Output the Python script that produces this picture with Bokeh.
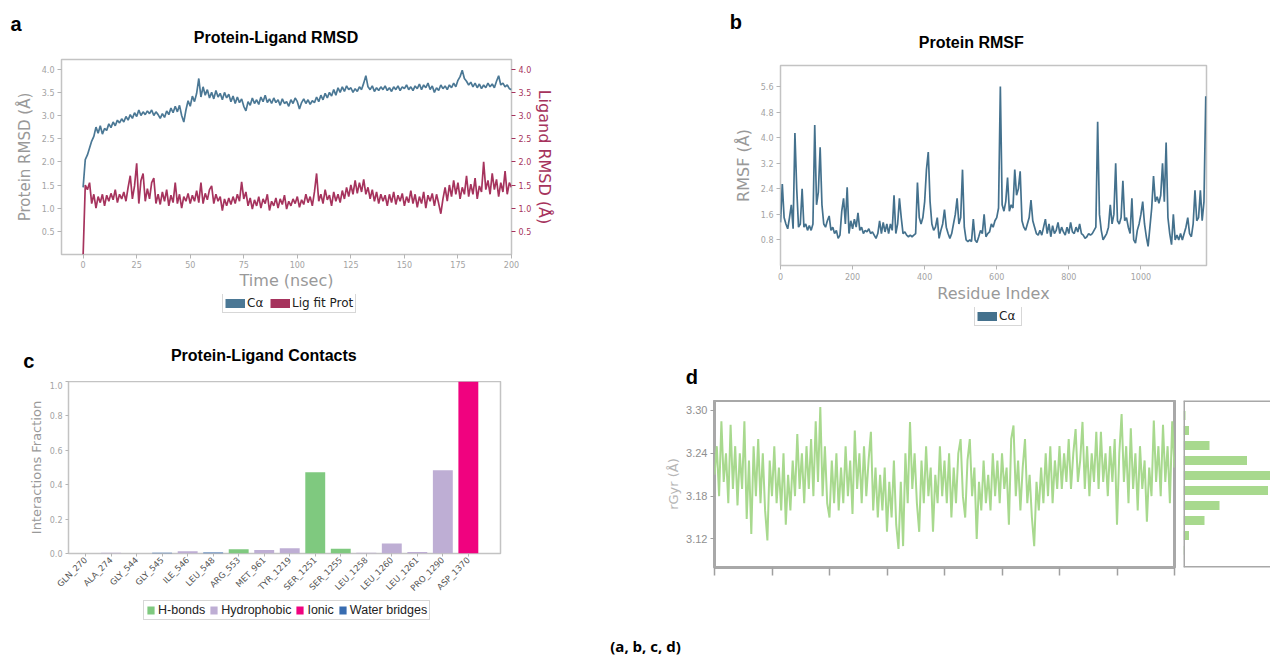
import math
from bokeh.plotting import figure
from bokeh.models import (Range1d, LinearAxis, FixedTicker, Legend, LegendItem,
                          Label, Span, ColumnDataSource, NumeralTickFormatter)
from bokeh.layouts import row, column
from bokeh.embed import file_html
from bokeh.resources import INLINE

# ---------------- Panel a : Protein-Ligand RMSD ----------------
time_ns = list(range(0, 201))
ca_rmsd = [
    1.45, 2.05, 2.15, 2.3, 2.45, 2.55, 2.75, 2.62, 2.78, 2.6,
    2.72, 2.68, 2.82, 2.74, 2.86, 2.78, 2.9, 2.84, 2.93, 2.86,
    2.98, 2.9, 3.02, 2.94, 3.06, 2.98, 3.12, 3.0, 3.08, 3.02,
    3.1, 3.04, 3.12, 3.0, 3.08, 3.02, 2.94, 3.04, 2.96, 3.1,
    3.02, 3.16, 3.06, 3.2, 3.08, 3.22, 3.0, 2.86, 3.12, 3.32,
    3.2, 3.42, 3.3, 3.48, 3.8, 3.4, 3.62, 3.44, 3.56, 3.38,
    3.5, 3.36, 3.54, 3.4, 3.48, 3.34, 3.5, 3.38, 3.46, 3.3,
    3.42, 3.26, 3.4, 3.28, 3.36, 3.2, 3.1, 3.3, 3.22, 3.38,
    3.26, 3.34, 3.24, 3.4, 3.3, 3.44, 3.28, 3.36, 3.26, 3.38,
    3.28, 3.34, 3.22, 3.36, 3.26, 3.3, 3.2, 3.34, 3.26, 3.38,
    3.3, 3.14, 3.28, 3.36, 3.26, 3.34, 3.24, 3.32, 3.28, 3.4,
    3.3, 3.44, 3.34, 3.48, 3.38, 3.5, 3.42, 3.56, 3.44, 3.6,
    3.5, 3.62, 3.52, 3.64, 3.56, 3.6, 3.5, 3.58, 3.52, 3.62,
    3.56, 3.7, 3.86, 3.62, 3.56, 3.64, 3.52, 3.6, 3.54, 3.62,
    3.56, 3.64, 3.54, 3.6, 3.52, 3.62, 3.56, 3.64, 3.54, 3.62,
    3.58, 3.66, 3.56, 3.62, 3.54, 3.64, 3.58, 3.68, 3.56, 3.66,
    3.6, 3.7, 3.56, 3.64, 3.5, 3.6, 3.54, 3.66, 3.58, 3.64,
    3.56, 3.66, 3.6, 3.7, 3.62, 3.76, 3.84, 3.98, 3.8, 3.74,
    3.66, 3.72, 3.62, 3.7, 3.6, 3.68, 3.58, 3.66, 3.6, 3.7,
    3.62, 3.68, 3.6, 3.74, 3.86, 3.66, 3.7, 3.62, 3.66, 3.58,
    3.56]
lig_rmsd = [
    0.0, 1.5, 1.4, 1.55, 1.1, 1.3, 1.0, 1.25, 1.12, 1.3,
    1.05, 1.28, 1.15, 1.32, 1.18, 1.4, 1.12, 1.3, 1.2, 1.35,
    1.15, 1.45, 1.7, 1.2, 1.48, 1.97, 1.1, 1.6, 1.75, 1.15,
    1.42, 1.2, 1.55, 1.65, 1.1, 1.3, 1.08, 1.35, 1.15, 1.4,
    1.05, 1.28, 1.12, 1.55, 1.1, 1.3, 1.0, 1.25, 1.15, 1.32,
    1.1, 1.28, 1.15, 1.38, 1.12, 1.55, 1.1, 1.32, 1.18, 1.4,
    1.48, 1.1, 1.3, 1.15, 1.25, 0.95, 1.2, 1.05, 1.22, 1.08,
    1.25, 1.1, 1.3, 1.15, 1.57, 1.2, 1.35, 1.05, 1.22, 0.98,
    1.18, 1.05, 1.25, 1.0, 1.2, 1.1, 1.3, 0.95, 1.15, 1.05,
    1.22, 1.0, 1.2, 1.08, 1.28, 0.98, 1.15, 1.05, 1.2, 1.1,
    1.25, 1.02, 1.18, 1.08, 1.3, 1.12, 1.25, 1.05, 1.35, 1.75,
    1.15, 1.3, 1.1, 1.4, 1.18, 1.28, 1.05, 1.35, 1.15, 1.3,
    1.12, 1.38, 1.2, 1.45, 1.25, 1.5, 1.3, 1.6, 1.32, 1.55,
    1.35, 1.62, 1.3, 1.45, 1.2, 1.4, 1.15, 1.35, 1.1, 1.3,
    1.15, 1.28, 1.05, 1.3, 1.12, 1.35, 1.08, 1.28, 1.15, 1.32,
    1.05, 1.25, 1.12, 1.38, 1.1, 1.3, 1.02, 1.25, 1.1, 1.35,
    1.0, 1.28, 1.15, 1.32, 1.05, 1.3, 1.1, 0.88, 1.2, 1.45,
    1.15, 1.5, 1.25, 1.6, 1.3, 1.55, 1.2, 1.45, 1.3, 1.7,
    1.25, 1.52, 1.3, 1.65, 1.2, 1.48, 1.35, 2.0, 1.4, 1.6,
    1.3, 1.75, 1.4, 1.62, 1.25, 1.55, 1.35, 1.8, 1.3, 1.55,
    1.45]
rmsd_time_ticks = [0, 25, 50, 75, 100, 125, 150, 175, 200]
rmsd_ticks = [0.5, 1.0, 1.5, 2.0, 2.5, 3.0, 3.5, 4.0]

# ---------------- Panel b : Protein RMSF ----------------
residue_index = list(range(0, 1181, 5))
rmsf = [
    1.35, 2.55, 1.5, 1.3, 1.15, 1.5, 1.9, 1.15, 4.15, 2.4,
    1.2, 1.3, 2.4, 1.2, 1.3, 1.1, 1.25, 1.1, 1.3, 4.4,
    1.9, 2.3, 3.7, 1.9, 1.3, 1.2, 1.4, 1.55, 1.1, 1.2,
    1.0, 1.1, 0.85, 0.95, 1.7, 2.1, 1.3, 2.45, 1.0, 1.4,
    1.15, 1.45, 1.2, 1.65, 1.1, 1.2, 1.0, 1.1, 1.05, 1.15,
    1.0, 1.05, 0.95, 0.85, 1.0, 1.4, 1.0, 1.35, 1.05, 1.3,
    1.0, 1.3, 1.1, 2.2, 1.0, 1.3, 2.1, 1.5, 1.0, 1.05,
    0.95, 0.9, 0.95, 0.9, 0.95, 1.0, 2.6, 1.5, 1.3, 1.5,
    2.0, 3.0, 3.55, 2.0, 1.3, 1.1, 1.2, 1.5, 0.85, 1.1,
    1.3, 1.75, 1.2, 1.0, 0.85, 1.0, 1.3, 1.6, 2.1, 1.3,
    1.5, 3.0, 1.2, 0.8, 0.75, 0.8, 0.75, 1.45, 0.8, 0.72,
    0.9, 1.1, 1.0, 1.6, 0.9, 1.0, 1.05, 1.3, 1.2, 1.4,
    1.5, 1.8, 5.6, 1.9, 1.7, 2.0, 2.75, 1.7, 1.9, 1.8,
    3.0, 2.2, 2.4, 2.95, 1.4, 1.2, 1.1, 1.3, 1.5, 2.05,
    1.4, 1.2, 1.0, 0.95, 1.1, 0.95, 1.2, 1.45, 1.0, 1.3,
    0.9, 1.25, 1.0, 1.1, 1.35, 1.0, 1.2, 1.05, 0.95, 1.2,
    1.0, 1.35, 1.05, 1.0, 1.2, 1.05, 1.3, 1.0, 0.95, 0.85,
    0.9, 1.0, 0.95, 1.0, 1.1, 1.2, 4.5, 1.6, 1.1, 0.8,
    0.9, 1.0, 1.2, 1.9, 1.3, 1.6, 3.2, 1.4, 1.3, 1.5,
    2.65, 1.4, 1.5, 1.2, 1.0, 2.1, 0.8, 0.7, 1.1, 1.3,
    1.6, 2.0, 1.3, 0.9, 0.6, 1.2, 1.8, 2.8, 2.0, 2.15,
    1.95, 2.2, 3.2, 2.0, 3.85, 1.5, 1.0, 0.65, 1.6, 0.8,
    0.95, 0.8, 1.0, 0.8, 1.0, 1.2, 1.5, 1.0, 0.9, 1.3,
    2.35, 1.4, 1.5, 2.35, 1.4, 2.0, 5.3]
rmsf_x_ticks = [0, 200, 400, 600, 800, 1000]
rmsf_y_ticks = [0.8, 1.6, 2.4, 3.2, 4.0, 4.8, 5.6]

# ---------------- Panel c : Protein-Ligand Contacts ----------------
residues = ["GLN_270", "ALA_274", "GLY_544", "GLY_545", "ILE_546", "LEU_548",
            "ARG_553", "MET_961", "TYR_1219", "SER_1251", "SER_1255", "LEU_1258",
            "LEU_1260", "LEU_1261", "PRO_1290", "ASP_1370"]
hbonds = [0, 0, 0, 0, 0, 0, 0.025, 0, 0, 0.472, 0.028, 0, 0, 0, 0, 0]
hydrophobic = [0, 0.004, 0, 0, 0.013, 0, 0, 0.021, 0.031, 0, 0, 0.004, 0.058, 0.008, 0.484, 0]
ionic = [0, 0, 0, 0, 0, 0, 0, 0, 0, 0, 0, 0, 0, 0, 0, 1.0]
water_bridges = [0, 0, 0, 0.005, 0, 0.006, 0, 0, 0, 0, 0, 0, 0, 0, 0, 0]
contact_types = ["H-bonds", "Hydrophobic", "Ionic", "Water bridges"]
contact_ticks = [0.0, 0.2, 0.4, 0.6, 0.8, 1.0]

# ---------------- Panel d : rGyr trace + histogram ----------------
time_d = list(range(0, 201))
rgyr = [
    3.21, 3.25, 3.18, 3.285, 3.2, 3.24, 3.17, 3.28, 3.19, 3.25,
    3.167, 3.24, 3.19, 3.285, 3.148, 3.23, 3.127, 3.25, 3.18, 3.26,
    3.17, 3.24, 3.16, 3.118, 3.23, 3.18, 3.25, 3.17, 3.22, 3.16,
    3.24, 3.14, 3.21, 3.16, 3.23, 3.18, 3.267, 3.19, 3.24, 3.17,
    3.25, 3.19, 3.26, 3.18, 3.285, 3.2, 3.305, 3.18, 3.25, 3.17,
    3.15, 3.23, 3.17, 3.24, 3.16, 3.22, 3.17, 3.25, 3.18, 3.23,
    3.155, 3.272, 3.19, 3.24, 3.17, 3.25, 3.18, 3.23, 3.27, 3.16,
    3.22, 3.15, 3.21, 3.16, 3.22, 3.13, 3.2, 3.15, 3.23, 3.14,
    3.106, 3.2, 3.11, 3.24, 3.17, 3.284, 3.19, 3.24, 3.17, 3.13,
    3.23, 3.17, 3.25, 3.18, 3.22, 3.13, 3.21, 3.17, 3.25, 3.18,
    3.23, 3.17, 3.24, 3.15, 3.22, 3.17, 3.24, 3.26, 3.18, 3.15,
    3.23, 3.26, 3.18, 3.22, 3.12, 3.2, 3.16, 3.23, 3.17, 3.21,
    3.16, 3.24, 3.18, 3.23, 3.17, 3.24, 3.19, 3.22, 3.14, 3.26,
    3.279, 3.18, 3.23, 3.16, 3.22, 3.26, 3.17, 3.21, 3.15, 3.11,
    3.2, 3.16, 3.22, 3.17, 3.24, 3.18, 3.25, 3.17, 3.23, 3.19,
    3.25, 3.19, 3.24, 3.2, 3.26, 3.19, 3.24, 3.274, 3.2, 3.23,
    3.284, 3.19, 3.25, 3.18, 3.24, 3.2, 3.27, 3.19, 3.27, 3.2,
    3.24, 3.18, 3.25, 3.2, 3.26, 3.14, 3.24, 3.295, 3.2, 3.25,
    3.17, 3.275, 3.19, 3.24, 3.16, 3.25, 3.19, 3.23, 3.144, 3.22,
    3.18, 3.286, 3.2, 3.25, 3.18, 3.28, 3.2, 3.25, 3.17, 3.285,
    3.22]
rgyr_time_ticks = [0, 25, 50, 75, 100, 125, 150, 175, 200]
rgyr_ticks = [3.12, 3.18, 3.24, 3.30]
hist_centers = [3.104, 3.125, 3.146, 3.167, 3.188, 3.209, 3.230, 3.251, 3.272, 3.293]
hist_counts = [2, 11, 42, 72, 169, 190, 127, 52, 11, 4]

# ---------------- styling helpers ----------------
BLUE = "#4b7895"
BLUE_B = "#44718d"
CRIMSON = "#a6335d"
GREEN = "#a8d98e"
TICK_GRAY = "#a3a3a3"
LABEL_GRAY = "#999999"
FRAME_GRAY = "#c3c3c3"
HBOND = "#7fc97f"
HYDRO = "#beaed4"
IONIC = "#f0027f"
WATER = "#386cb0"
NAN = float("nan")   # legend-key renderers carry no visible data


def base_fig(fw, fh, xr, yr, left, right, top, bottom, **kw):
    p = figure(frame_width=fw, frame_height=fh, x_range=xr, y_range=yr,
               output_backend="svg", toolbar_location=None,
               min_border_left=left, min_border_right=right,
               min_border_top=top, min_border_bottom=bottom, **kw)
    p.frame_align = False
    p.grid.visible = False
    p.background_fill_color = "white"
    p.border_fill_color = "white"
    return p


def strip(fw, fh):
    s = figure(frame_width=fw, frame_height=fh, x_range=Range1d(0, 1), y_range=Range1d(0, 1),
               x_axis_location=None, y_axis_location=None, output_backend="svg",
               toolbar_location=None, min_border=0)
    s.frame_align = False
    s.grid.visible = False
    s.outline_line_color = None
    return s


def style_axis(ax, size="8px", color=TICK_GRAY, label_size="16px",
               label_color=LABEL_GRAY, tick_out=4, label_standoff=3,
               axis_label_standoff=5, tick_color="#b5b5b5"):
    ax.major_label_text_font = "DejaVu Sans"
    ax.major_label_text_font_size = size
    ax.major_label_text_color = color
    ax.axis_label_text_font = "DejaVu Sans"
    ax.axis_label_text_font_size = label_size
    ax.axis_label_text_font_style = "normal"
    ax.axis_label_text_color = label_color
    ax.axis_line_color = None
    ax.minor_tick_line_color = None
    ax.major_tick_in = 0
    ax.major_tick_out = tick_out
    ax.major_tick_line_color = tick_color
    ax.major_label_standoff = label_standoff
    ax.axis_label_standoff = axis_label_standoff


def make_legend(items, loc, font="DejaVu Sans", size="12px", gw=20, gh=10,
                spacing=3, standoff=2):
    lg = Legend(items=items, location=loc, orientation="horizontal")
    lg.label_text_font = font
    lg.label_text_font_size = size
    lg.label_text_color = "#222222"
    lg.border_line_color = "#b0b0b0"
    lg.border_line_width = 1
    lg.background_fill_color = "white"
    lg.background_fill_alpha = 1.0
    lg.padding = 2
    lg.spacing = spacing
    lg.margin = 0
    lg.label_standoff = standoff
    lg.label_height = 12
    lg.glyph_height = gh
    lg.glyph_width = gw
    return lg


def put_text(p, text, x, y, size, font="Liberation Sans", bold=True, color="black"):
    p.add_layout(Label(x=x, y=y, x_units="screen", y_units="screen", text=text,
                       text_align="center", text_baseline="middle",
                       text_font=font, text_font_size=size,
                       text_font_style="bold" if bold else "normal",
                       text_color=color))


# ================= ROW 1 =================
head_a = strip(720, 52)
put_text(head_a, "a", 15.5, 28.7, "20px")
put_text(head_a, "Protein-Ligand RMSD", 275.5, 15.3, "16px")
head_b = strip(550, 52)
put_text(head_b, "b", 15.3, 30.3, "20px")
put_text(head_b, "Protein RMSF", 250.8, 9.8, "16px")

# ---- Panel a ----
pa = base_fig(450, 195, Range1d(-10.1, 200), Range1d(0, 4.21), 61, 209, 7, 40)
pa.outline_line_color = FRAME_GRAY
pa.outline_line_width = 1.5
pa.extra_y_ranges = {"lig": Range1d(0, 4.21)}
pa.line(time_ns, ca_rmsd, color=BLUE, line_width=1.7)
pa.line(time_ns, lig_rmsd, color=CRIMSON, line_width=1.7, y_range_name="lig")
pa.xaxis.ticker = FixedTicker(ticks=rmsd_time_ticks)
pa.yaxis.ticker = FixedTicker(ticks=rmsd_ticks)
pa.yaxis.formatter = NumeralTickFormatter(format="0.0")
pa.xaxis.axis_label = "Time (nsec)"
pa.yaxis.axis_label = "Protein RMSD (\u00c5)"
style_axis(pa.xaxis[0], label_standoff=2, axis_label_standoff=0)
style_axis(pa.yaxis[0], label_size="15px")
ra = LinearAxis(y_range_name="lig", axis_label="Ligand RMSD (\u00c5)",
                ticker=FixedTicker(ticks=rmsd_ticks),
                formatter=NumeralTickFormatter(format="0.0"))
style_axis(ra, color=CRIMSON, label_color=CRIMSON, tick_color=CRIMSON,
           axis_label_standoff=1)
pa.add_layout(ra, "right")

leg_a_strip = strip(720, 36)
ka1 = leg_a_strip.line(x=[NAN], y=[NAN], color=BLUE, line_width=9)
ka2 = leg_a_strip.line(x=[NAN], y=[NAN], color=CRIMSON, line_width=9)
leg_a_strip.add_layout(make_legend([LegendItem(label="C\u03b1", renderers=[ka1]),
                                    LegendItem(label="Lig fit Prot", renderers=[ka2])],
                                   (222, 17)))

# ---- Panel b ----
pb = base_fig(426, 200, Range1d(0, 1182), Range1d(0, 6.26), 60, 64, 13, 42)
pb.outline_line_color = FRAME_GRAY
pb.outline_line_width = 1.5
pb.line(residue_index, rmsf, color=BLUE_B, line_width=1.7)
pb.xaxis.ticker = FixedTicker(ticks=rmsf_x_ticks)
pb.yaxis.ticker = FixedTicker(ticks=rmsf_y_ticks)
pb.yaxis.formatter = NumeralTickFormatter(format="0.0")
pb.xaxis.axis_label = "Residue Index"
pb.yaxis.axis_label = "RMSF (\u00c5)"
style_axis(pb.xaxis[0], axis_label_standoff=1)
style_axis(pb.yaxis[0])

leg_b_strip = strip(550, 23)
kb1 = leg_b_strip.line(x=[NAN], y=[NAN], color=BLUE_B, line_width=9)
leg_b_strip.add_layout(make_legend([LegendItem(label="C\u03b1", renderers=[kb1])],
                                   (254, 4)))

# ================= ROW 2 =================
head_c = strip(660, 51)
put_text(head_c, "c", 28.3, 21, "20px")
put_text(head_c, "Protein-Ligand Contacts", 263.3, 26, "16px")

pc = base_fig(432, 172, Range1d(-0.67, 16.26), Range1d(0, 1.0), 68, 160, 0, 46)
pc.outline_line_color = FRAME_GRAY
pc.outline_line_width = 1.5
src_c = ColumnDataSource(dict(pos=list(range(len(residues))), hbonds=hbonds,
                              hydrophobic=hydrophobic, ionic=ionic,
                              water=water_bridges))
pc.vbar_stack(["hbonds", "hydrophobic", "ionic", "water"], x="pos",
              width=0.78, fill_color=[HBOND, HYDRO, IONIC, WATER],
              line_color=None, source=src_c)
pc.xaxis.ticker = FixedTicker(ticks=list(range(len(residues))))
pc.xaxis.major_label_overrides = {i: name for i, name in enumerate(residues)}
pc.yaxis.ticker = FixedTicker(ticks=contact_ticks)
pc.yaxis.formatter = NumeralTickFormatter(format="0.0")
pc.yaxis.axis_label = "Interactions Fraction"
style_axis(pc.xaxis[0], size="8.5px", color="#555555", tick_out=3, label_standoff=2)
pc.xaxis.major_label_orientation = math.pi / 4
style_axis(pc.yaxis[0], size="8px", label_size="13px", tick_out=3, axis_label_standoff=3)

leg_c_strip = strip(660, 31)
kc = [leg_c_strip.vbar(x=[NAN], top=[NAN], width=0.5, fill_color=c, line_color=None)
      for c in [HBOND, HYDRO, IONIC, WATER]]
leg_c_strip.add_layout(make_legend([LegendItem(label=t, renderers=[r]) for t, r in zip(contact_types, kc)],
                                   (143, 10), font="Liberation Sans", size="12.5px", gw=9, gh=10,
                                   spacing=4, standoff=3))

# ---- Panel d ----
head_d = strip(610, 70)
put_text(head_d, "d", 31.3, 23.3, "20px")

pd_ = base_fig(460, 167, Range1d(0, 200), Range1d(3.08, 3.314), 54, 6, 0, 63)
pd_.outline_line_color = "#a8a8a8"
pd_.outline_line_width = 3
pd_.line(time_d, rgyr, color=GREEN, line_width=2.0)
pd_.xaxis.ticker = FixedTicker(ticks=rgyr_time_ticks)
pd_.yaxis.ticker = FixedTicker(ticks=rgyr_ticks)
pd_.yaxis.formatter = NumeralTickFormatter(format="0.00")
pd_.yaxis.axis_label = "rGyr (\u00c5)"
style_axis(pd_.xaxis[0], tick_out=8, tick_color="#a0a0a0")
pd_.xaxis.major_tick_line_width = 1.5
pd_.xaxis.major_label_text_color = None
style_axis(pd_.yaxis[0], size="11px", color="#8f8f8f", label_size="13px",
           label_color="#b5b5b5", tick_out=4, label_standoff=3,
           axis_label_standoff=2, tick_color="#a0a0a0")
pd_.yaxis.major_label_text_font = "Liberation Sans"

ph = figure(frame_width=87, frame_height=167, x_range=Range1d(0, 174),
            y_range=Range1d(3.08, 3.314), x_axis_location=None, y_axis_location=None,
            output_backend="svg", toolbar_location=None, min_border_left=3,
            min_border_right=0, min_border_top=0, min_border_bottom=63)
ph.frame_align = False
ph.grid.visible = False
ph.outline_line_color = None
ph.hbar(y=hist_centers, right=hist_counts, left=0, height=0.0126,
        fill_color=GREEN, line_color=None)
for loc, dim in [(0, "height"), (3.314, "width"), (3.08, "width")]:
    ph.add_layout(Span(location=loc, dimension=dim, line_color="#a8a8a8", line_width=3))

# ---------------- caption ----------------
cap = strip(1270, 25)
put_text(cap, "(a, b, c, d)", 645, 10, "15px", font="Open Sans")

layout = column(
    row(column(head_a, pa, leg_a_strip), column(head_b, pb, leg_b_strip)),
    row(column(head_c, pc, leg_c_strip), column(head_d, row(pd_, ph))),
    cap)
open("out.html", "w").write(file_html(layout, INLINE, title="MD simulation panels"))
